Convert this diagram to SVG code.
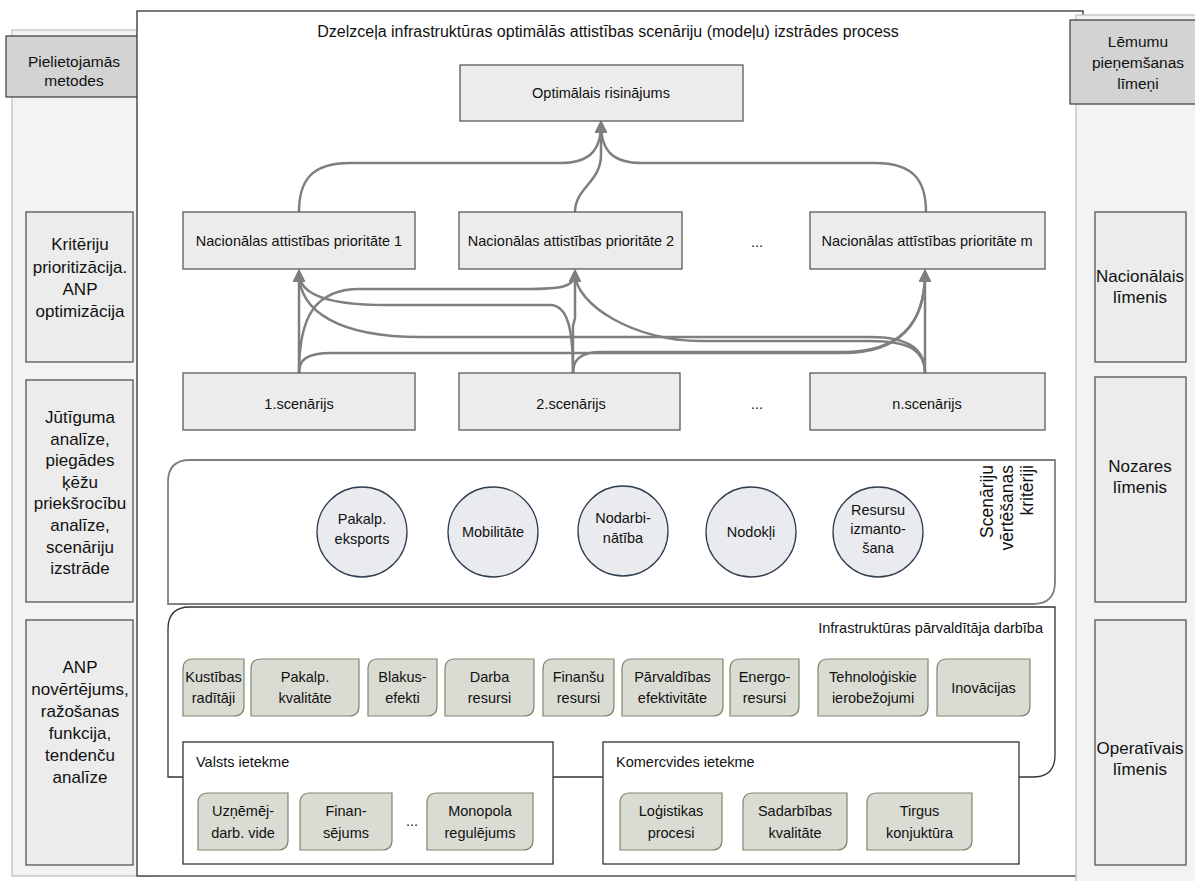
<svg xmlns="http://www.w3.org/2000/svg" width="1195" height="881" viewBox="0 0 1195 881">
<defs>
<marker id="arr" viewBox="0 0 10 10" refX="7" refY="5" markerWidth="5" markerHeight="5" orient="auto" markerUnits="strokeWidth">
<path d="M0,0 L10,5 L0,10 Z" fill="#7f7f7f"/>
</marker>
</defs>
<style>
text{font-family:"Liberation Sans",Arial,sans-serif;font-size:14.5px;fill:#111;}
.c{text-anchor:middle;}
.t{font-size:16px;}
.h{font-size:15.5px;}
.s{font-size:17px;}
.v{font-size:17.5px;}
.g{font-size:14.5px;}
.panel{fill:#f3f3f3;stroke:#bdbdbd;stroke-width:1.2;}
.head{fill:#d3d3d3;stroke:#3a3a3a;stroke-width:1.2;}
.side{fill:#ececec;stroke:#555;stroke-width:1.3;}
.node{fill:#ececec;stroke:#5a5a5a;stroke-width:1.3;}
.circ{fill:#e9ebee;stroke:#2f3d4f;stroke-width:1.3;}
.grn{fill:#dadcd3;stroke:#7a8a6c;stroke-width:1.2;}
.con{fill:none;stroke:#7f7f7f;stroke-width:2.5;}
</style>

<!-- left panel -->
<g id="left-panel">
<rect class="panel" x="12" y="30" width="140" height="846"/>
<rect class="head" x="6" y="36" width="150" height="61"/>
<text class="c h" x="74" y="67">Pielietojamās</text>
<text class="c h" x="74" y="86">metodes</text>
</g>

<!-- main frame -->
<g id="main-frame">
<rect x="137" y="11" width="946" height="865" fill="#fff" stroke="#333" stroke-width="1.3"/>
<text class="c t" x="608" y="37">Dzelzceļa infrastruktūras optimālās attistības scenāriju (modeļu) izstrādes process</text>
</g>

<!-- right panel -->
<g id="right-panel">
<rect class="panel" x="1076" y="15" width="125" height="870"/>
<rect class="head" x="1070" y="20" width="130" height="84"/>
<text class="c h" x="1138" y="47">Lēmumu</text>
<text class="c h" x="1138" y="68">pieņemšanas</text>
<text class="c h" x="1138" y="89">līmeņi</text>
</g>

<!-- left method boxes -->
<g id="m1">
<rect class="side" x="26" y="212" width="107" height="150"/>
<text class="c s" x="80" y="250">Kritēriju</text>
<text class="c s" x="80" y="273">prioritizācija.</text>
<text class="c s" x="80" y="295">ANP</text>
<text class="c s" x="80" y="317">optimizācija</text>
</g>
<g id="m2">
<rect class="side" x="26" y="380" width="107" height="222"/>
<text class="c s" x="80" y="423">Jūtīguma</text>
<text class="c s" x="80" y="444.6">analīze,</text>
<text class="c s" x="80" y="466.2">piegādes</text>
<text class="c s" x="80" y="487.8">ķēžu</text>
<text class="c s" x="80" y="509.4">priekšrocību</text>
<text class="c s" x="80" y="531">analīze,</text>
<text class="c s" x="80" y="552.6">scenāriju</text>
<text class="c s" x="80" y="574.2">izstrāde</text>
</g>
<g id="m3">
<rect class="side" x="26" y="620" width="107" height="245"/>
<text class="c s" x="80" y="673">ANP</text>
<text class="c s" x="80" y="695">novērtējums,</text>
<text class="c s" x="80" y="717">ražošanas</text>
<text class="c s" x="80" y="739">funkcija,</text>
<text class="c s" x="80" y="761">tendenču</text>
<text class="c s" x="80" y="783">analīze</text>
</g>

<!-- right level boxes -->
<g id="l1">
<rect class="side" x="1095" y="212" width="91" height="150"/>
<text class="c s" x="1140" y="282">Nacionālais</text>
<text class="c s" x="1140" y="303">līmenis</text>
</g>
<g id="l2">
<rect class="side" x="1095" y="377" width="91" height="225"/>
<text class="c s" x="1140" y="472">Nozares</text>
<text class="c s" x="1140" y="493">līmenis</text>
</g>
<g id="l3">
<rect class="side" x="1095" y="620" width="91" height="245"/>
<text class="c s" x="1140" y="754">Operatīvais</text>
<text class="c s" x="1140" y="775">līmenis</text>
</g>

<!-- connectors -->
<g id="connectors">
<path class="con" marker-end="url(#arr)" d="M299,212 C299,180 312,163 350,163 L560,163 C588,163 601,152 601,124"/>
<path class="con" marker-end="url(#arr)" d="M575,212 C575,188 601,182 601,155 L601,124"/>
<path class="con" marker-end="url(#arr)" d="M926,212 C926,180 913,163 875,163 L642,163 C614,163 601,152 601,124"/>

<path class="con" marker-end="url(#arr)" d="M299,373 L299,273"/>
<path class="con" marker-end="url(#arr)" d="M573,373 L573,326 L575,318 L575,273"/>
<path class="con" marker-end="url(#arr)" d="M925,373 L925,273"/>

<path class="con" marker-end="url(#arr)" d="M299,373 C299,318 314,289 360,289 L525,289 C562,289 575,287 575,273"/>
<path class="con" marker-end="url(#arr)" d="M299,373 C299,360 306,353 332,353 L843,353 C898,353 925,325 925,273"/>
<path class="con" marker-end="url(#arr)" d="M573,373 C573,330 568,305 550,305 L385,305 C330,305 299,295 299,273"/>
<path class="con" marker-end="url(#arr)" d="M573,373 C573,360 580,352 602,352 L843,352 C898,352 925,325 925,273"/>
<path class="con" marker-end="url(#arr)" d="M925,373 C925,350 910,337 870,337 L420,337 C340,337 299,312 299,273"/>
<path class="con" marker-end="url(#arr)" d="M925,373 C925,352 912,341 870,341 L700,341 C635,341 575,305 575,273"/>
</g>

<!-- nodes -->
<g id="opt">
<rect class="node" x="460" y="65" width="283" height="56"/>
<text class="c" x="601" y="98">Optimālais risinājums</text>
</g>
<g id="p1">
<rect class="node" x="183" y="212" width="232" height="57"/>
<text class="c" x="299" y="246">Nacionālas attistības prioritāte 1</text>
</g>
<g id="p2">
<rect class="node" x="459" y="212" width="223" height="57"/>
<text class="c" x="571" y="246">Nacionālas attistības prioritāte 2</text>
</g>
<g id="pdots"><text class="c" x="757" y="247">...</text></g>
<g id="pm">
<rect class="node" x="810" y="212" width="235" height="57"/>
<text class="c" x="927" y="246">Nacionālas attīstības prioritāte m</text>
</g>
<g id="s1">
<rect class="node" x="183" y="373" width="232" height="57"/>
<text class="c" x="299" y="409">1.scenārijs</text>
</g>
<g id="s2">
<rect class="node" x="459" y="373" width="221" height="57"/>
<text class="c" x="571" y="409">2.scenārijs</text>
</g>
<g id="sdots"><text class="c" x="757" y="409">...</text></g>
<g id="sn">
<rect class="node" x="810" y="373" width="235" height="57"/>
<text class="c" x="927" y="409">n.scenārijs</text>
</g>

<!-- criteria container -->
<g id="criteria">
<path d="M190,460 L1055,460 L1055,582 Q1055,604 1033,604 L168,604 L168,482 Q168,460 190,460 Z" fill="#fff" stroke="#808080" stroke-width="1.8"/>
<text class="v" transform="translate(993,465) rotate(-90)" text-anchor="end">Scenāriju</text>
<text class="v" transform="translate(1013,465) rotate(-90)" text-anchor="end">vērtēšanas</text>
<text class="v" transform="translate(1033,465) rotate(-90)" text-anchor="end">kritēriji</text>
</g>
<g id="c1">
<circle class="circ" cx="362" cy="532" r="45"/>
<text class="c" x="362" y="524">Pakalp.</text>
<text class="c" x="362" y="544">eksports</text>
</g>
<g id="c2">
<circle class="circ" cx="493" cy="532" r="45"/>
<text class="c" x="493" y="537">Mobilitāte</text>
</g>
<g id="c3">
<circle class="circ" cx="623" cy="531" r="45"/>
<text class="c" x="623" y="523">Nodarbi-</text>
<text class="c" x="623" y="543">nātība</text>
</g>
<g id="c4">
<circle class="circ" cx="751" cy="532" r="45"/>
<text class="c" x="751" y="537">Nodokļi</text>
</g>
<g id="c5">
<circle class="circ" cx="878" cy="532" r="45"/>
<text class="c" x="878" y="515">Resursu</text>
<text class="c" x="878" y="534">izmanto-</text>
<text class="c" x="878" y="553">šana</text>
</g>

<!-- infrastructure manager container -->
<g id="infra">
<path d="M190,607 L1055,607 L1055,755 Q1055,777 1033,777 L168,777 L168,629 Q168,607 190,607 Z" fill="#fff" stroke="#333" stroke-width="1.3"/>
<text x="1043" y="633" text-anchor="end">Infrastruktūras pārvaldītāja darbība</text>
</g>
<g id="g1">
<path class="grn" d="M193,659 L244,659 L244,706 Q244,716 234,716 L183,716 L183,669 Q183,659 193,659 Z"/>
<text class="c g" x="213.5" y="682">Kustības</text>
<text class="c g" x="213.5" y="703">radītāji</text>
</g>
<g id="g2">
<path class="grn" d="M261,659 L359,659 L359,706 Q359,716 349,716 L251,716 L251,669 Q251,659 261,659 Z"/>
<text class="c g" x="305" y="682">Pakalp.</text>
<text class="c g" x="305" y="703">kvalitāte</text>
</g>
<g id="g3">
<path class="grn" d="M378,659 L437,659 L437,706 Q437,716 427,716 L368,716 L368,669 Q368,659 378,659 Z"/>
<text class="c g" x="402.5" y="682">Blakus-</text>
<text class="c g" x="402.5" y="703">efekti</text>
</g>
<g id="g4">
<path class="grn" d="M455,659 L534,659 L534,706 Q534,716 524,716 L445,716 L445,669 Q445,659 455,659 Z"/>
<text class="c g" x="489.5" y="682">Darba</text>
<text class="c g" x="489.5" y="703">resursi</text>
</g>
<g id="g5">
<path class="grn" d="M553,659 L614,659 L614,706 Q614,716 604,716 L543,716 L543,669 Q543,659 553,659 Z"/>
<text class="c g" x="578.5" y="682">Finanšu</text>
<text class="c g" x="578.5" y="703">resursi</text>
</g>
<g id="g6">
<path class="grn" d="M632,659 L723,659 L723,706 Q723,716 713,716 L622,716 L622,669 Q622,659 632,659 Z"/>
<text class="c g" x="672.5" y="682">Pārvaldības</text>
<text class="c g" x="672.5" y="703">efektivitāte</text>
</g>
<g id="g7">
<path class="grn" d="M740,659 L799,659 L799,706 Q799,716 789,716 L730,716 L730,669 Q730,659 740,659 Z"/>
<text class="c g" x="764.5" y="682">Energo-</text>
<text class="c g" x="764.5" y="703">resursi</text>
</g>
<g id="g8">
<path class="grn" d="M828,659 L928,659 L928,706 Q928,716 918,716 L818,716 L818,669 Q818,659 828,659 Z"/>
<text class="c g" x="873" y="682">Tehnoloģiskie</text>
<text class="c g" x="873" y="703">ierobežojumi</text>
</g>
<g id="g9">
<path class="grn" d="M947,659 L1030,659 L1030,706 Q1030,716 1020,716 L937,716 L937,669 Q937,659 947,659 Z"/>
<text class="c g" x="983.5" y="693">Inovācijas</text>
</g>

<!-- state influence -->
<g id="valsts">
<rect x="183" y="742" width="370" height="122" fill="#fff" stroke="#333" stroke-width="1.3"/>
<text x="196" y="767">Valsts ietekme</text>
</g>
<g id="v1">
<path class="grn" d="M208,793 L288,793 L288,840 Q288,850 278,850 L198,850 L198,803 Q198,793 208,793 Z"/>
<text class="c g" x="243" y="816">Uzņēmēj-</text>
<text class="c g" x="243" y="838">darb. vide</text>
</g>
<g id="v2">
<path class="grn" d="M310,793 L392,793 L392,840 Q392,850 382,850 L300,850 L300,803 Q300,793 310,793 Z"/>
<text class="c g" x="346" y="816">Finan-</text>
<text class="c g" x="346" y="838">sējums</text>
</g>
<g id="vdots"><text class="c" x="412" y="826">...</text></g>
<g id="v3">
<path class="grn" d="M437,793 L533,793 L533,840 Q533,850 523,850 L427,850 L427,803 Q427,793 437,793 Z"/>
<text class="c g" x="480" y="816">Monopola</text>
<text class="c g" x="480" y="838">regulējums</text>
</g>

<!-- commercial influence -->
<g id="komerc">
<rect x="603" y="742" width="416" height="122" fill="#fff" stroke="#333" stroke-width="1.3"/>
<text x="616" y="767">Komercvides ietekme</text>
</g>
<g id="k1">
<path class="grn" d="M630,793 L722,793 L722,840 Q722,850 712,850 L620,850 L620,803 Q620,793 630,793 Z"/>
<text class="c g" x="671" y="816">Loģistikas</text>
<text class="c g" x="671" y="838">procesi</text>
</g>
<g id="k2">
<path class="grn" d="M753,793 L847,793 L847,840 Q847,850 837,850 L743,850 L743,803 Q743,793 753,793 Z"/>
<text class="c g" x="795" y="816">Sadarbības</text>
<text class="c g" x="795" y="838">kvalitāte</text>
</g>
<g id="k3">
<path class="grn" d="M877,793 L972,793 L972,840 Q972,850 962,850 L867,850 L867,803 Q867,793 877,793 Z"/>
<text class="c g" x="919.5" y="816">Tirgus</text>
<text class="c g" x="919.5" y="838">konjuktūra</text>
</g>
</svg>
